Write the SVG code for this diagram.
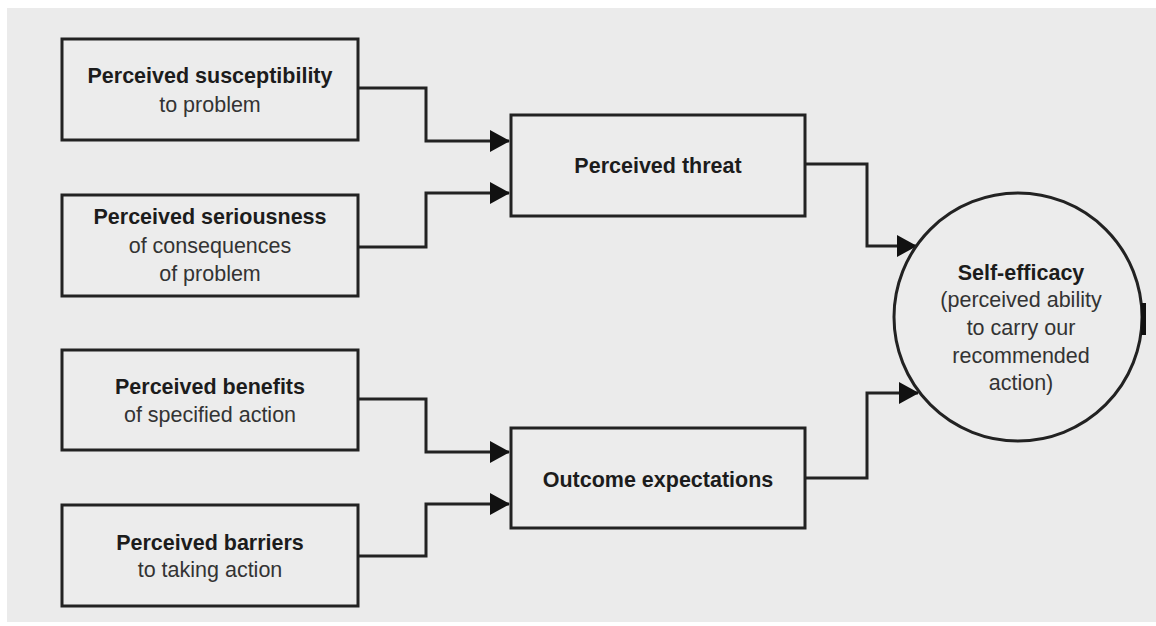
<svg xmlns="http://www.w3.org/2000/svg" width="1156" height="626" viewBox="0 0 1156 626">
<defs>
<style>
.box{fill:#ececec;stroke:#222;stroke-width:3}
.b{font-family:"Liberation Sans",Arial,sans-serif;font-weight:bold;font-size:21.5px;fill:#1c1c1c;text-anchor:middle}
.r{font-family:"Liberation Sans",Arial,sans-serif;font-size:21.5px;fill:#333;text-anchor:middle}
.c{fill:none;stroke:#222;stroke-width:3}
</style>
<marker id="ah" markerUnits="userSpaceOnUse" markerWidth="20" markerHeight="22" refX="19" refY="11" orient="auto">
<path d="M0,0 L20,11 L0,22 Z" fill="#111"/>
</marker>
</defs>
<rect x="0" y="0" width="1156" height="626" fill="#ffffff"/>
<rect x="7" y="8" width="1149" height="614" fill="#ebebeb"/>
<g id="connectors">
<path class="c" d="M358,88 H426 V141 H509" marker-end="url(#ah)"/>
<path class="c" d="M358,247 H426 V193 H509" marker-end="url(#ah)"/>
<path class="c" d="M358,399 H426 V452 H509" marker-end="url(#ah)"/>
<path class="c" d="M358,556 H426 V504 H509" marker-end="url(#ah)"/>
<path class="c" d="M805,164 H867 V246 H916" marker-end="url(#ah)"/>
<path class="c" d="M805,478 H867 V393 H918" marker-end="url(#ah)"/>
</g>
<g id="n-susceptibility">
<rect class="box" x="62" y="39" width="296" height="101"/>
<text class="b" x="210" y="83">Perceived susceptibility</text>
<text class="r" x="210" y="112">to problem</text>
</g>
<g id="n-seriousness">
<rect class="box" x="62" y="195" width="296" height="101"/>
<text class="b" x="210" y="224">Perceived seriousness</text>
<text class="r" x="210" y="253">of consequences</text>
<text class="r" x="210" y="281">of problem</text>
</g>
<g id="n-benefits">
<rect class="box" x="62" y="350" width="296" height="100"/>
<text class="b" x="210" y="394">Perceived benefits</text>
<text class="r" x="210" y="422">of specified action</text>
</g>
<g id="n-barriers">
<rect class="box" x="62" y="505" width="296" height="101"/>
<text class="b" x="210" y="550">Perceived barriers</text>
<text class="r" x="210" y="577">to taking action</text>
</g>
<g id="n-threat">
<rect class="box" x="511" y="115" width="294" height="101"/>
<text class="b" x="658" y="173">Perceived threat</text>
</g>
<g id="n-outcome">
<rect class="box" x="511" y="428" width="294" height="100"/>
<text class="b" x="658" y="487">Outcome expectations</text>
</g>
<g id="n-selfefficacy">
<circle cx="1018" cy="317" r="124" fill="#ececec" stroke="#222" stroke-width="3"/>
<line x1="1143.5" y1="303" x2="1143.5" y2="335" stroke="#111" stroke-width="5"/>
<text class="b" x="1021" y="280">Self-efficacy</text>
<text class="r" x="1021" y="307">(perceived ability</text>
<text class="r" x="1021" y="335">to carry our</text>
<text class="r" x="1021" y="363">recommended</text>
<text class="r" x="1021" y="390">action)</text>
</g>
</svg>
